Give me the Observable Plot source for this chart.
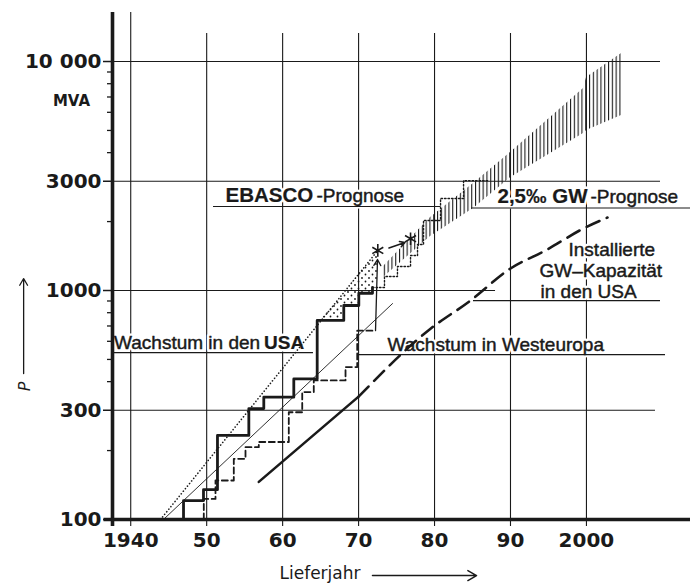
<!DOCTYPE html>
<html><head><meta charset="utf-8">
<script src="https://cdn.jsdelivr.net/npm/d3@7"></script>
<script src="https://cdn.jsdelivr.net/npm/@observablehq/plot@0.6"></script>
<style>
html,body{margin:0;padding:0;background:#fff;}
#chart svg{display:block;}
</style>
</head><body><div id="chart"></div>
<script>
// ---- tick values and labels ----
const xTicks = [1940, 1950, 1960, 1970, 1980, 1990, 2000];
const xTickLabels = ["1940", "50", "60", "70", "80", "90", "2000"];
const yTicks = [100, 300, 1000, 3000, 10000];
const yTickLabels = ["100", "300", "1000", "3000", "10 000"];
const yMinorTicks = [200, 400, 500, 600, 700, 800, 900, 2000, 4000, 5000, 6000, 7000, 8000, 9000];

// ---- texts ----
const annotationTexts = ["EBASCO", "-Prognose", "2,5‰ GW", "-Prognose", "Wachstum in den ", "USA",
  "Wachstum in Westeuropa", "Installierte", "GW–Kapazität", "in den USA"];
const unitText = "MVA";
const yTitle = "P";
const xTitle = "Lieferjahr";

// ---- Wachstum in den USA (thick staircase) ----
const usaYear = [1946.95, 1946.95, 1949.58, 1951.42, 1955.55, 1957.52, 1961.47, 1964.55, 1968.05, 1970.03, 1971.83];
const usaMVA  = [100, 121, 135, 233, 305, 342, 411, 740, 860, 973, 1031];

// ---- Wachstum in Westeuropa (dashed staircase) ----
const euYear = [1949.62, 1949.62, 1951.16, 1953.57, 1955.11, 1956.86, 1960.81, 1962.58, 1964.10, 1968.28, 1969.82, 1972.23];
const euMVA  = [100, 123, 148, 184, 207, 218, 294, 360, 405, 463, 668, 668];

// ---- EBASCO continuation steps (dotted) ----
const stepYear = [1971.83, 1973.41, 1975.12, 1976.84, 1977.76, 1978.55, 1980.79, 1983.82, 1987.1];
const stepMVA  = [1031, 1151, 1273, 1421, 1588, 2022, 2522, 3020, 3020];

// ---- straight trend lines ----
const trendYear = [1944.31, 1974.47];
const trendMVA  = [100, 877];
const envYear = [1943.92, 1972.53];
const envMVA  = [100, 1496];

// ---- Installierte GW-Kapazität in den USA ----
const capSolidYear = [1956.86, 1970.0];
const capSolidMVA  = [146, 344];
const capDashYear = [1970.0, 1979.47, 1984.74, 1990.0, 1994.61, 1999.61, 2002.77];
const capDashMVA  = [344, 681, 904, 1248, 1495, 1866, 2083];

// ---- 2,5 ‰ GW-Prognose band ----
const bandYear = [1973.28, 1979.47, 1985.13, 1990.0, 1999.61, 2000.01, 2004.62];
const bandLo   = [1140, 1722, 2280, 3110, 4850, 5000, 5810];
const bandHi   = [1273, 2083, 2930, 4010, 7620, 8510, 10840];

// ---- stippled region between EBASCO envelope and staircase ----
const stipYear = [1965.0, 1968.05, 1968.05, 1970.03, 1970.03, 1971.83, 1971.83, 1972.53];
const stipLo   = [740, 740, 860, 860, 973, 973, 1031, 1100];
const stipHi   = [740, 979, 979, 1172, 1172, 1395, 1395, 1496];

// ---- asterisks ----
const astYear = [1972.53, 1976.84];
const astMVA  = [1496, 1683];

const zip = (xs, ys) => xs.map((x, i) => ({year: x, mva: ys[i]}));
const usa = zip(usaYear, usaMVA);
const eu = zip(euYear, euMVA);
const steps = zip(stepYear, stepMVA);
const trend = zip(trendYear, trendMVA);
const env = zip(envYear, envMVA);
const capSolid = zip(capSolidYear, capSolidMVA);
const capDash = zip(capDashYear, capDashMVA);
const band = bandYear.map((x, i) => ({year: x, lo: bandLo[i], hi: bandHi[i]}));
const stip = stipYear.map((x, i) => ({year: x, lo: stipLo[i], hi: stipHi[i]}));
const ast = zip(astYear, astMVA);

const ANN = "Liberation Sans, Arial, sans-serif";
const TICK = "DejaVu Sans, sans-serif";
const ink = "#1a1a1a";

// halo (white, hides grid) + inked text (slightly heavier, like the stencil lettering)
function label(t, x, y, o = {}) {
  const base = {x, y, text: d => d, textAnchor: "start", lineAnchor: "bottom",
    fontFamily: ANN, fontSize: 19, ...o};
  return [
    Plot.text([t], {...base, fill: "white", stroke: "white", strokeWidth: 5}),
    Plot.text([t], {...base, fill: ink, stroke: ink, strokeWidth: o.fontWeight === "bold" ? 0.2 : 0.45})
  ];
}

const svg = Plot.plot({
  width: 696, height: 583,
  marginLeft: 112, marginRight: 6, marginTop: 12, marginBottom: 64,
  x: {domain: [1937.6, 2013.7], label: null},
  y: {type: "log", domain: [100, 16370], label: null},
  style: {background: "white", color: ink, fontFamily: ANN, overflow: "visible"},
  marks: [
    // grid
    Plot.ruleX(xTicks.slice(1), {y1: 93.2, y2: 13250, stroke: ink, strokeWidth: 1.1}),
    Plot.ruleX(xTicks.slice(0, 1), {y1: 93.2, y2: 16370, stroke: ink, strokeWidth: 1.1}),
    Plot.ruleY([10000, 3000], {x1: 1937.6, x2: 2009.75, stroke: ink, strokeWidth: 1.1}),
    Plot.ruleY([1000], {x1: 1937.6, x2: 1988.03, stroke: ink, strokeWidth: 1.1}),
    Plot.ruleY([300], {x1: 1937.6, x2: 2009.09, stroke: ink, strokeWidth: 1.1}),
    // bands
    Plot.areaY(band, {x: "year", y1: "lo", y2: "hi", fill: "url(#hatch)"}),
    Plot.areaY(stip, {x: "year", y1: "lo", y2: "hi", fill: "url(#stipple)"}),
    // annotations
    label(annotationTexts[0], 1952.48, 2423, {fontWeight: "bold", fontSize: 20.5}),
    label(annotationTexts[1], 1952.48, 2423, {dx: 91}),
    label(annotationTexts[2], 1988.29, 2399, {fontWeight: "bold", fontSize: 20.5}),
    label(annotationTexts[3], 1988.29, 2399, {dx: 93}),
    label(annotationTexts[4], 1937.80, 558),
    label(annotationTexts[5], 1937.80, 558, {dx: 150, fontWeight: "bold"}),
    label(annotationTexts[6], 1973.81, 547),
    label(annotationTexts[7], 1997.64, 1421),
    label(annotationTexts[8], 1993.82, 1151),
    label(annotationTexts[9], 1993.95, 932),
    // underlines
    Plot.ruleY([2327], {x1: 1950.90, x2: 1980.79, stroke: ink, strokeWidth: 1.2}),
    Plot.ruleY([2292], {x1: 1984.87, x2: 2013.7, stroke: ink, strokeWidth: 1.2}),
    Plot.ruleY([904], {x1: 1985.13, x2: 2009.75, stroke: ink, strokeWidth: 1.2}),
    Plot.ruleY([536], {x1: 1937.73, x2: 1964.06, stroke: ink, strokeWidth: 1.2}),
    Plot.ruleY([525], {x1: 1969.86, x2: 2010.41, stroke: ink, strokeWidth: 1.2}),
    // series
    Plot.line(trend, {x: "year", y: "mva", stroke: ink, strokeWidth: 0.9}),
    Plot.line(env, {x: "year", y: "mva", stroke: ink, strokeWidth: 1.6, strokeDasharray: "0.1,3.2", strokeLinecap: "round"}),
    Plot.line(eu, {x: "year", y: "mva", curve: "step-after", stroke: ink, strokeWidth: 1.8, strokeDasharray: "6,3.5"}),
    Plot.line(steps, {x: "year", y: "mva", curve: "step-after", stroke: ink, strokeWidth: 1.4, strokeDasharray: "1.5,2"}),
    Plot.line(usa, {x: "year", y: "mva", curve: "step-after", stroke: ink, strokeWidth: 2.8}),
    Plot.line(capSolid, {x: "year", y: "mva", stroke: ink, strokeWidth: 2.6}),
    Plot.line(capDash, {x: "year", y: "mva", curve: "monotone-x", stroke: ink, strokeWidth: 2.6, strokeDasharray: "14,8"}),
    Plot.dot(ast, {x: "year", y: "mva", symbol: "asterisk", r: 6, stroke: ink, strokeWidth: 1.6}),
    Plot.arrow([0], {x1: 1972.23, y1: 668, x2: 1972.49, y2: 1366, stroke: ink, strokeWidth: 1.3, headLength: 8}),
    Plot.arrow([0], {x1: 1974.0, y1: 1533, x2: 1976.1, y2: 1621, stroke: ink, strokeWidth: 1.5, headLength: 7}),
    // axes
    Plot.ruleX([1937.6], {y1: 93.2, y2: 16370, stroke: ink, strokeWidth: 3.6}),
    Plot.ruleY([100], {x1: 1936.48, x2: 2013.7, stroke: ink, strokeWidth: 3.6}),
    Plot.ruleY(yMinorTicks, {x1: 1936.94, x2: 1937.6, stroke: ink, strokeWidth: 1.3}),
    Plot.axisY(yTicks, {anchor: "left", tickSize: 9, tickPadding: 2, strokeWidth: 1.5,
      tickFormat: d => yTickLabels[yTicks.indexOf(d)], fontSize: 20, fontWeight: "bold", fontFamily: TICK, label: null}),
    Plot.axisX(xTicks, {anchor: "bottom", tickSize: 0, tickPadding: 13,
      tickFormat: d => xTickLabels[xTicks.indexOf(d)], fontSize: 20, fontWeight: "bold", fontFamily: TICK, label: null}),
    Plot.text([unitText], {x: 1932.2, y: 6683, text: d => d, fontFamily: TICK, fontWeight: "bold", fontSize: 15, fill: ink}),
    Plot.text([yTitle], {x: 1926.1, y: 381, text: d => d, rotate: -90, fontFamily: TICK, fontStyle: "italic", fontSize: 16, fill: ink}),
    Plot.arrow([0], {x1: 1925.9, y1: 434, x2: 1925.9, y2: 1128, stroke: ink, strokeWidth: 1.3, headLength: 9}),
    Plot.text([xTitle], {x: 1959.59, y: 54.7, text: d => d, textAnchor: "start", lineAnchor: "bottom", fontFamily: TICK, fontSize: 17, fill: ink}),
    Plot.arrow([0], {x1: 1971.83, y1: 56.9, x2: 1985.53, y2: 56.9, stroke: ink, strokeWidth: 1.5, headLength: 10})
  ]
});

const defs = d3.select(svg).insert("defs", ":first-child");
const hatch = defs.append("pattern").attr("id", "hatch").attr("patternUnits", "userSpaceOnUse")
  .attr("width", 3.8).attr("height", 10);
hatch.append("rect").attr("x", 0).attr("y", 0).attr("width", 1.1).attr("height", 10).attr("fill", ink);
const stipple = defs.append("pattern").attr("id", "stipple").attr("patternUnits", "userSpaceOnUse")
  .attr("width", 7).attr("height", 7);
stipple.append("circle").attr("cx", 1.5).attr("cy", 1.5).attr("r", 0.9).attr("fill", ink);
stipple.append("circle").attr("cx", 5).attr("cy", 5).attr("r", 0.9).attr("fill", ink);

document.getElementById("chart").appendChild(svg);
</script>
</body></html>
